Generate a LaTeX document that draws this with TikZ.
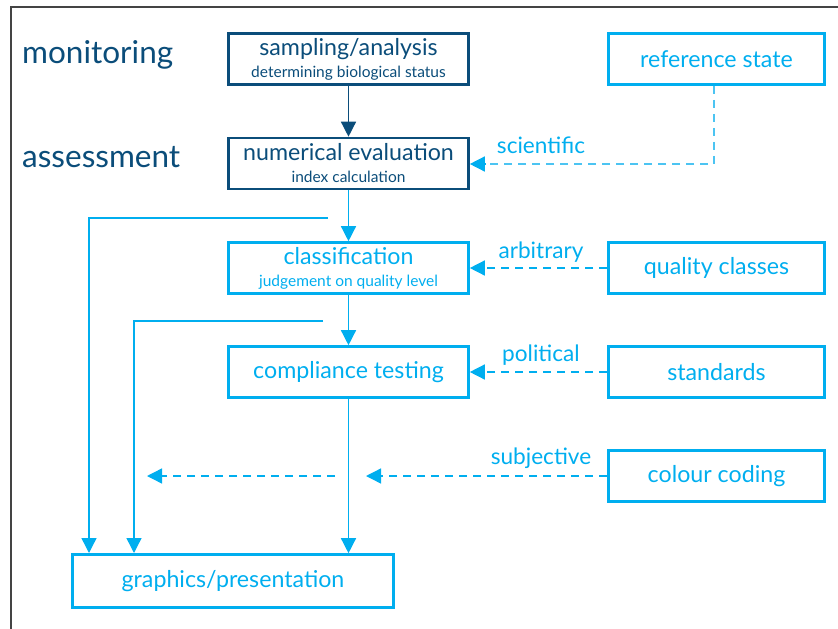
\documentclass[tikz,border=0pt]{standalone}
\usepackage{fontspec}
\setmainfont{Lato}
\usetikzlibrary{arrows.meta}
\definecolor{dblue}{HTML}{0B4D7A}
\definecolor{cyanb}{HTML}{00AEEF}
\definecolor{cyanl}{HTML}{4CC4F2}
\definecolor{framec}{HTML}{444444}
\begin{document}
\begin{tikzpicture}[x=1pt,y=-1pt,
  box/.style={draw=cyanb,line width=2.6pt,minimum width=240pt,minimum height=51pt,inner sep=0pt,text=cyanb,align=center,font=\fontsize{23.2}{25}\selectfont},
  rbox/.style={box,minimum width=216pt},
  dbox/.style={box,draw=dblue,text=dblue},
  flow/.style={draw=cyanb,line width=1.4pt,-{Triangle[length=15pt,width=15pt]}},
  dflow/.style={flow,draw=dblue},
  dashline/.style={draw=cyanb,line width=1.4pt,dash pattern=on 8pt off 6pt,-{Triangle[length=15pt,width=15pt]}},
  lbl/.style={text=cyanb,font=\fontsize{22.6}{25}\selectfont,inner sep=0pt},
  side/.style={text=dblue,font=\fontsize{31.5}{34}\selectfont,inner sep=0pt,anchor=west}]
\useasboundingbox (0,0) rectangle (838,629);
\draw[framec,line width=1.5pt] (11,629) -- (11,7) -- (838,7);

\node[side] (mon) at (22,55) {monitoring};
\node[side] (ass) at (22,157) {assessment};

\node[dbox] (samp) at (348.5,59) {sampling/analysis\\[-3pt]{\fontsize{15.5}{17}\selectfont determining biological status}};
\node[dbox] (num) at (348.5,163.5) {numerical evaluation\\[-3pt]{\fontsize{15.5}{17}\selectfont index calculation}};
\node[box] (cls) at (348.5,268) {classification\\[-3pt]{\fontsize{15.5}{17}\selectfont judgement on quality level}};
\node[box] (comp) at (348.5,372) {compliance testing};
\node[box,minimum width=321pt,minimum height=53pt] (gra) at (233,581) {graphics/presentation};

\node[rbox] (ref) at (716.5,59) {reference state};
\node[rbox] (qc) at (716.5,268) {quality classes};
\node[rbox] (std) at (716.5,372) {standards};
\node[rbox] (col) at (716.5,476) {colour coding};

\draw[dflow] (samp) -- (num);
\draw[flow] (num) -- (cls);
\draw[flow] (cls) -- (comp);
\draw[flow] (comp) -- (gra.north -| comp);

\coordinate (f1) at (328,218);
\coordinate (f2) at (323,321);
\draw[flow] (f1) -- (89,218) -- (89,553);
\draw[flow] (f2) -- (134,321) -- (134,553);

\coordinate (rc) at (714,164);
\draw[dashline,draw=cyanl,-] (ref.south -| rc) -- (rc) -- (486,164);
\draw[dashline] (486,164) -- (num.east |- rc);
\draw[dashline] (qc.west) -- (cls.east);
\draw[dashline] (std.west) -- (comp.east);

\coordinate (c1) at (366,476);
\coordinate (c2) at (335,476);
\coordinate (c3) at (147,476);
\draw[dashline] (col.west) -- (c1);
\draw[dashline] (c2) -- (c3);

\node[lbl] (l1) at (541,145) {scientific};
\node[lbl] (l2) at (541,252) {arbitrary};
\node[lbl] (l3) at (541,355) {political};
\node[lbl] (l4) at (541,458) {subjective};
\end{tikzpicture}
\end{document}
